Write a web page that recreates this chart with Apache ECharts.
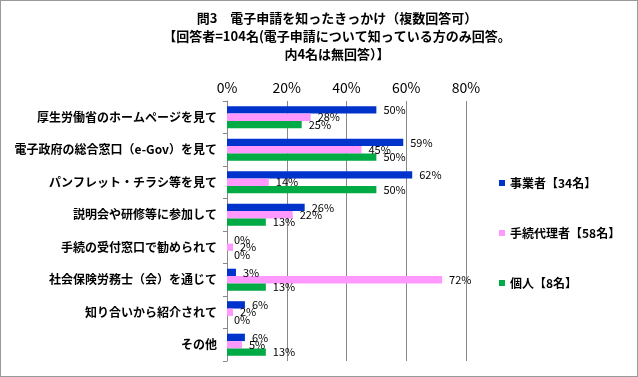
<!DOCTYPE html>
<html>
<head>
<meta charset="utf-8">
<script src="https://cdn.jsdelivr.net/npm/echarts@6/dist/echarts.min.js"></script>
<style>
html, body { margin: 0; padding: 0; background: #fff; }
#chart { width: 636px; height: 375px; border: 1px solid #999; }
</style>
</head>
<body>
<div id="chart"></div>
<script>
// 回答項目
var categories = [
  '厚生労働省のホームページを見て',
  '電子政府の総合窓口（e-Gov）を見て',
  'パンフレット・チラシ等を見て',
  '説明会や研修等に参加して',
  '手続の受付窓口で勧められて',
  '社会保険労務士（会）を通じて',
  '知り合いから紹介されて',
  'その他'
];
var seriesNames = ['事業者【34名】', '手続代理者【58名】', '個人【8名】'];
var jigyousha = [50, 59, 62, 26, 0, 3, 6, 6];
var dairisha = [28, 45, 14, 22, 2, 72, 2, 5];
var kojin = [25, 50, 50, 13, 0, 13, 0, 13];
var colors = ['#0033cc', '#ff99ff', '#00aa44'];

var font = '"Noto Sans CJK JP", sans-serif';

var myChart = echarts.init(document.getElementById('chart'));

function barSeries (name, data, color) {
  return {
    name: name,
    type: 'bar',
    data: data,
    barGap: '0%',
    barCategoryGap: '32%',
    itemStyle: { color: color },
    label: {
      show: true,
      position: 'right',
      distance: 7,
      formatter: '{c}%',
      color: '#000',
      fontSize: 11,
      fontFamily: font
    }
  };
}

var option = {
  animation: false,
  textStyle: { fontFamily: font },
  title: {
    text: '問3　電子申請を知ったきっかけ（複数回答可）\n【回答者=104名(電子申請について知っている方のみ回答。\n内4名は無回答）】',
    left: 331,
    textAlign: 'center',
    top: 3,
    textStyle: {
      fontSize: 13,
      fontWeight: 'bold',
      lineHeight: 18,
      color: '#000',
      fontFamily: font
    }
  },
  legend: {
    orient: 'vertical',
    left: 493,
    top: 171,
    itemGap: 38,
    itemWidth: 6,
    itemHeight: 6,
    icon: 'rect',
    textStyle: { fontSize: 12, fontWeight: 'bold', color: '#000', fontFamily: font },
    data: seriesNames
  },
  grid: {
    left: 226,
    right: 171,
    top: 100,
    bottom: 15
  },
  xAxis: {
    type: 'value',
    position: 'top',
    min: 0,
    max: 80,
    interval: 20,
    axisLine: { show: false },
    axisTick: { show: false },
    axisLabel: {
      formatter: '{value}%',
      fontSize: 14,
      color: '#000',
      margin: 6,
      fontFamily: font
    },
    splitLine: { lineStyle: { color: '#888', width: 1 } }
  },
  yAxis: {
    type: 'category',
    inverse: true,
    data: categories,
    axisLine: { lineStyle: { color: '#888' } },
    axisTick: { show: true, length: 4, lineStyle: { color: '#888' } },
    axisLabel: {
      fontSize: 12,
      fontWeight: 'bold',
      color: '#000',
      margin: 10,
      fontFamily: font
    }
  },
  series: [
    barSeries(seriesNames[0], jigyousha, colors[0]),
    barSeries(seriesNames[1], dairisha, colors[1]),
    barSeries(seriesNames[2], kojin, colors[2])
  ]
};

myChart.setOption(option);
</script>
</body>
</html>
